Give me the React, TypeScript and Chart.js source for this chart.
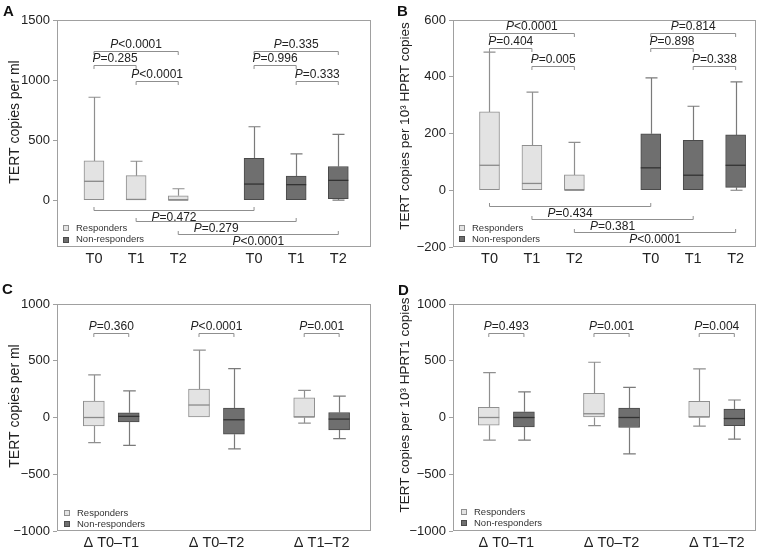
import React, { useEffect, useRef } from 'react';
import { Chart, registerables } from 'chart.js';

Chart.register(...registerables);

const FONT = '"Liberation Sans", Arial, Helvetica, sans-serif';
Chart.defaults.font.family = FONT;

// ---------- Data ----------
// Box stats per box: [min, q1, median, q3, max]
const seriesLabels = ['Responders', 'Non-responders'];

// Panel A: TERT copies per ml
const aTickPos = [0, 1, 2, 3.8, 4.8, 5.8];
const aTickLabels = ['T0', 'T1', 'T2', 'T0', 'T1', 'T2'];
const aRespX = [0, 1, 2];
const aNonX = [3.8, 4.8, 5.8];
const aResp = [
  [0, 0, 157, 327, 857],
  [0, 0, 6, 204, 324],
  [0, 0, 0, 37, 95],
];
const aNon = [
  [0, 0, 134, 349, 611],
  [0, 0, 129, 201, 385],
  [0, 12, 165, 280, 548],
];
const aYTicks = [0, 500, 1000, 1500];
// [fromX, toX, y, text after P, direction(1 above / -1 below)]
const aBrackets: [number, number, number, string, number][] = [
  [0, 2, 1242, '<0.0001', 1],
  [0, 1, 1122, '=0.285', 1],
  [1, 2, 994, '<0.0001', 1],
  [3.8, 5.8, 1242, '=0.335', 1],
  [3.8, 4.8, 1122, '=0.996', 1],
  [4.8, 5.8, 994, '=0.333', 1],
  [0, 3.8, -78, '=0.472', -1],
  [1, 4.8, -172, '=0.279', -1],
  [2, 5.8, -283, '<0.0001', -1],
];

// Panel B: TERT copies per 10^3 HPRT copies
const bTickPos = [0, 1, 2, 3.8, 4.8, 5.8];
const bTickLabels = ['T0', 'T1', 'T2', 'T0', 'T1', 'T2'];
const bRespX = [0, 1, 2];
const bNonX = [3.8, 4.8, 5.8];
const bResp = [
  [0, 0, 88, 276, 487],
  [0, 0, 24, 158, 346],
  [0, 0, 0, 54, 169],
];
const bNon = [
  [0, 0, 79, 199, 396],
  [0, 0, 53, 176, 296],
  [0, 10, 88, 195, 382],
];
const bYTicks = [-200, 0, 200, 400, 600];
const bBrackets: [number, number, number, string, number][] = [
  [0, 2, 555, '<0.0001', 1],
  [0, 1, 500, '=0.404', 1],
  [1, 2, 439, '=0.005', 1],
  [3.8, 5.8, 555, '=0.814', 1],
  [3.8, 4.8, 500, '=0.898', 1],
  [4.8, 5.8, 439, '=0.338', 1],
  [0, 3.8, -57, '=0.434', -1],
  [1, 4.8, -100, '=0.381', -1],
  [2, 5.8, -146, '<0.0001', -1],
];

// Panel C: change, TERT copies per ml
const cTickPos = [0, 1, 2];
const cTickLabels = ['\u0394 T0\u2013T1', '\u0394 T0\u2013T2', '\u0394 T1\u2013T2'];
const cRespX = [-0.166, 0.834, 1.834];
const cNonX = [0.166, 1.166, 2.166];
const cResp = [
  [-221, -74, 0, 145, 375],
  [0, 0, 110, 251, 593],
  [-50, 0, 4, 174, 239],
];
const cNon = [
  [-245, -38, 10, 41, 234],
  [-277, -147, -20, 83, 431],
  [-186, -109, -14, 44, 189],
];
const cYTicks = [-1000, -500, 0, 500, 1000];
const cBrackets: [number, number, number, string, number][] = [
  [-0.166, 0.166, 746, '=0.360', 1],
  [0.834, 1.166, 746, '<0.0001', 1],
  [1.834, 2.166, 746, '=0.001', 1],
];

// Panel D: change, TERT copies per 10^3 HPRT1 copies
const dTickPos = [0, 1, 2];
const dTickLabels = ['\u0394 T0\u2013T1', '\u0394 T0\u2013T2', '\u0394 T1\u2013T2'];
const dRespX = [-0.167, 0.833, 1.833];
const dNonX = [0.167, 1.167, 2.167];
const dResp = [
  [-200, -68, 0, 89, 395],
  [-71, 0, 33, 212, 487],
  [-76, 0, 4, 142, 428],
];
const dNon = [
  [-200, -82, 0, 50, 225],
  [-321, -88, 0, 83, 266],
  [-191, -71, -9, 74, 154],
];
const dYTicks = [-1000, -500, 0, 500, 1000];
const dBrackets: [number, number, number, string, number][] = [
  [-0.167, 0.167, 748, '=0.493', 1],
  [0.833, 1.167, 748, '=0.001', 1],
  [1.833, 2.167, 748, '=0.004', 1],
];

// ---------- Styles ----------
const FILL = ['#e3e3e3', '#6f6f6f'];
const BORDER = ['#8f8f8f', '#4a4a4a'];
const WHISKER = ['#8f8f8f', '#7a7a7a'];
const MEDIAN = ['#8a8a8a', '#333333'];
const FRAME = '#a0a0a0';
const TEXT = '#222222';

type PanelCfg = {
  letter: string;
  left: number; top: number; width: number; height: number;
  padTop: number; padRight: number; yWidth: number; xHeight: number;
  xMin: number; xMax: number; yMin: number; yMax: number; yTicks: number[];
  xTickPos: number[]; xTickLabels: string[];
  respX: number[]; nonX: number[]; resp: number[][]; non: number[][];
  brackets: [number, number, number, string, number][];
  yTitle: string; titleSize: number; titleX: number; titleY: number;
  letterX: number; letterY: number;
  legendX: number; legendRows: number[];
  barW: number;
};

function drawP(ctx: CanvasRenderingContext2D, rest: string, cx: number, y: number, base: CanvasTextBaseline) {
  const size = 12;
  ctx.font = `italic ${size}px ${FONT}`;
  const wP = ctx.measureText('P').width;
  ctx.font = `${size}px ${FONT}`;
  const wR = ctx.measureText(rest).width;
  const x0 = cx - (wP + wR) / 2;
  ctx.textAlign = 'left';
  ctx.textBaseline = base;
  ctx.fillStyle = TEXT;
  ctx.font = `italic ${size}px ${FONT}`;
  ctx.fillText('P', x0, y);
  ctx.font = `${size}px ${FONT}`;
  ctx.fillText(rest, x0 + wP, y);
}

function extrasPlugin(cfg: PanelCfg) {
  return {
    id: 'boxExtras',
    beforeDatasetsDraw(chart: any) {
      const ctx: CanvasRenderingContext2D = chart.ctx;
      const ys = chart.scales.y;
      [cfg.resp, cfg.non].forEach((stats, d) => {
        const meta = chart.getDatasetMeta(d);
        ctx.save();
        ctx.strokeStyle = WHISKER[d];
        ctx.lineWidth = 1.2;
        meta.data.forEach((el: any, i: number) => {
          const [mn, q1, , q3, mx] = stats[i];
          const cx = Math.round(el.x) + 0.5;
          const capHalf = el.width * 0.3;
          const pairs = [[q3, mx], [q1, mn]];
          for (const [from, to] of pairs) {
            if (to === from) continue;
            const p0 = ys.getPixelForValue(from);
            const p1 = ys.getPixelForValue(to);
            ctx.beginPath();
            ctx.moveTo(cx, p0);
            ctx.lineTo(cx, p1);
            ctx.moveTo(cx - capHalf, p1);
            ctx.lineTo(cx + capHalf, p1);
            ctx.stroke();
          }
        });
        ctx.restore();
      });
    },
    afterDatasetsDraw(chart: any) {
      const ctx: CanvasRenderingContext2D = chart.ctx;
      const ys = chart.scales.y;
      const xs = chart.scales.x;
      const ca = chart.chartArea;
      ctx.save();
      // medians
      [cfg.resp, cfg.non].forEach((stats, d) => {
        const meta = chart.getDatasetMeta(d);
        ctx.strokeStyle = MEDIAN[d];
        ctx.lineWidth = 1.3;
        meta.data.forEach((el: any, i: number) => {
          const py = ys.getPixelForValue(stats[i][2]);
          ctx.beginPath();
          ctx.moveTo(el.x - el.width / 2, py);
          ctx.lineTo(el.x + el.width / 2, py);
          ctx.stroke();
        });
      });
      // frame
      ctx.strokeStyle = FRAME;
      ctx.lineWidth = 1;
      ctx.strokeRect(Math.round(ca.left) + 0.5, Math.round(ca.top) + 0.5, Math.round(ca.right - ca.left) - 1, Math.round(ca.bottom - ca.top) - 1);
      // brackets
      cfg.brackets.forEach(([x1, x2, yv, text, dir]) => {
        const px1 = xs.getPixelForValue(x1);
        const px2 = xs.getPixelForValue(x2);
        const py = Math.round(ys.getPixelForValue(yv)) + 0.5;
        const tick = 3.5 * dir;
        ctx.strokeStyle = '#8f8f8f';
        ctx.lineWidth = 1;
        ctx.beginPath();
        ctx.moveTo(px1, py + tick);
        ctx.lineTo(px1, py);
        ctx.lineTo(px2, py);
        ctx.lineTo(px2, py + tick);
        ctx.stroke();
        const cx = (px1 + px2) / 2;
        if (dir > 0) drawP(ctx, text, cx, py - 4, 'alphabetic');
        else drawP(ctx, text, cx, py + 1, 'top');
      });
      // legend
      chart.data.datasets.forEach((ds: any, d: number) => {
        const cy = ca.bottom + cfg.legendRows[d];
        const sx = Math.round(ca.left + cfg.legendX);
        ctx.fillStyle = ds.backgroundColor;
        ctx.fillRect(sx, Math.round(cy - 3), 6, 6);
        ctx.strokeStyle = ds.borderColor;
        ctx.strokeRect(sx + 0.5, Math.round(cy - 3) + 0.5, 5, 5);
        ctx.fillStyle = '#333';
        ctx.font = `9.5px ${FONT}`;
        ctx.textBaseline = 'middle';
        ctx.textAlign = 'left';
        ctx.fillText(ds.label, sx + 13, cy);
      });
      ctx.restore();
    },
    afterDraw(chart: any) {
      const ctx: CanvasRenderingContext2D = chart.ctx;
      ctx.save();
      // y title
      ctx.translate(cfg.titleX, cfg.titleY);
      ctx.rotate(-Math.PI / 2);
      ctx.fillStyle = TEXT;
      ctx.font = `${cfg.titleSize}px ${FONT}`;
      ctx.textAlign = 'center';
      ctx.textBaseline = 'middle';
      ctx.fillText(cfg.yTitle, 0, 0);
      ctx.restore();
      ctx.save();
      ctx.fillStyle = '#111';
      ctx.font = `bold 15px ${FONT}`;
      ctx.textAlign = 'left';
      ctx.textBaseline = 'alphabetic';
      ctx.fillText(cfg.letter, cfg.letterX, cfg.letterY);
      ctx.restore();
    },
  };
}

function fmt(v: number) {
  return v < 0 ? '\u2212' + Math.abs(v) : String(v);
}

function buildConfig(cfg: PanelCfg): any {
  const mk = (xs: number[], stats: number[][]) => xs.map((x, i) => ({ x, y: [stats[i][1], stats[i][3]] }));
  return {
    type: 'bar',
    data: {
      datasets: [cfg.respX, cfg.nonX].map((xs, d) => ({
        label: seriesLabels[d],
        data: mk(xs, d === 0 ? cfg.resp : cfg.non),
        backgroundColor: FILL[d],
        borderColor: BORDER[d],
        borderWidth: 1,
        borderSkipped: false,
        grouped: false,
        categoryPercentage: 1,
        barPercentage: 1,
        maxBarThickness: cfg.barW,
      })),
    },
    options: {
      animation: false,
      responsive: false,
      maintainAspectRatio: false,
      layout: { padding: { left: 0, top: cfg.padTop, right: cfg.padRight, bottom: 0 } },
      plugins: { legend: { display: false }, tooltip: { enabled: false }, title: { display: false } },
      scales: {
        x: {
          type: 'linear',
          offset: false,
          min: cfg.xMin,
          max: cfg.xMax,
          grid: { display: false, drawTicks: false, offset: false },
          border: { display: false },
          afterBuildTicks: (s: any) => { s.ticks = cfg.xTickPos.map((v) => ({ value: v })); },
          ticks: {
            autoSkip: false,
            maxRotation: 0,
            padding: 3,
            color: TEXT,
            font: { size: 14.5, family: FONT },
            callback: (_v: any, i: number) => cfg.xTickLabels[i],
          },
          afterFit: (s: any) => { s.height = cfg.xHeight; },
        },
        y: {
          type: 'linear',
          min: cfg.yMin,
          max: cfg.yMax,
          grid: { drawOnChartArea: false, drawTicks: true, tickLength: 4, color: FRAME },
          border: { display: false },
          afterBuildTicks: (s: any) => { s.ticks = cfg.yTicks.map((v) => ({ value: v })); },
          ticks: {
            padding: 3,
            color: TEXT,
            font: { size: 13, family: FONT },
            callback: (v: any) => fmt(Number(v)),
          },
          afterFit: (s: any) => { s.width = cfg.yWidth; },
        },
      },
    },
    plugins: [extrasPlugin(cfg)],
  };
}

const panels: PanelCfg[] = [
  {
    letter: 'A', left: 0, top: 0, width: 385, height: 275,
    padTop: 20, padRight: 14, yWidth: 57, xHeight: 28,
    xMin: -0.878, xMax: 6.576, yMin: -390, yMax: 1500, yTicks: aYTicks,
    xTickPos: aTickPos, xTickLabels: aTickLabels,
    respX: aRespX, nonX: aNonX, resp: aResp, non: aNon, brackets: aBrackets,
    yTitle: 'TERT copies per ml', titleSize: 14, titleX: 15, titleY: 122,
    letterX: 3, letterY: 16, legendX: 6, legendRows: [-19, -7.5], barW: 20,
  },
  {
    letter: 'B', left: 385, top: 0, width: 386, height: 275,
    padTop: 20, padRight: 15, yWidth: 68, xHeight: 28,
    xMin: -0.86, xMax: 6.28, yMin: -200, yMax: 600, yTicks: bYTicks,
    xTickPos: bTickPos, xTickLabels: bTickLabels,
    respX: bRespX, nonX: bNonX, resp: bResp, non: bNon, brackets: bBrackets,
    yTitle: 'TERT copies per 10\u00B3 HPRT copies', titleSize: 13.5, titleX: 20, titleY: 126,
    letterX: 12, letterY: 16, legendX: 6, legendRows: [-19, -8], barW: 20,
  },
  {
    letter: 'C', left: 0, top: 275, width: 385, height: 276,
    padTop: 29, padRight: 14, yWidth: 57, xHeight: 20,
    xMin: -0.516, xMax: 2.469, yMin: -1000, yMax: 1000, yTicks: cYTicks,
    xTickPos: cTickPos, xTickLabels: cTickLabels,
    respX: cRespX, nonX: cNonX, resp: cResp, non: cNon, brackets: cBrackets,
    yTitle: 'TERT copies per ml', titleSize: 14, titleX: 15, titleY: 131,
    letterX: 2, letterY: 18.5, legendX: 7, legendRows: [-18, -7], barW: 21,
  },
  {
    letter: 'D', left: 385, top: 275, width: 386, height: 276,
    padTop: 29, padRight: 15, yWidth: 68, xHeight: 20,
    xMin: -0.507, xMax: 2.373, yMin: -1000, yMax: 1000, yTicks: dYTicks,
    xTickPos: dTickPos, xTickLabels: dTickLabels,
    respX: dRespX, nonX: dNonX, resp: dResp, non: dNon, brackets: dBrackets,
    yTitle: 'TERT copies per 10\u00B3 HPRT1 copies', titleSize: 13.5, titleX: 20, titleY: 130,
    letterX: 13, letterY: 20, legendX: 8, legendRows: [-19, -8], barW: 21,
  },
];

function Panel({ cfg }: { cfg: PanelCfg }) {
  const ref = useRef<HTMLCanvasElement>(null);
  useEffect(() => {
    const canvas = ref.current;
    if (!canvas) return;
    const chart = new Chart(canvas, buildConfig(cfg));
    return () => chart.destroy();
  }, [cfg]);
  return (
    <canvas
      ref={ref}
      width={cfg.width}
      height={cfg.height}
      style={{ position: 'absolute', left: cfg.left, top: cfg.top, width: cfg.width, height: cfg.height }}
    />
  );
}

export default function App() {
  return (
    <div style={{ position: 'absolute', left: 0, top: 0, width: 771, height: 551, background: '#ffffff', overflow: 'hidden' }}>
      {panels.map((p) => (
        <Panel key={p.letter} cfg={p} />
      ))}
    </div>
  );
}
